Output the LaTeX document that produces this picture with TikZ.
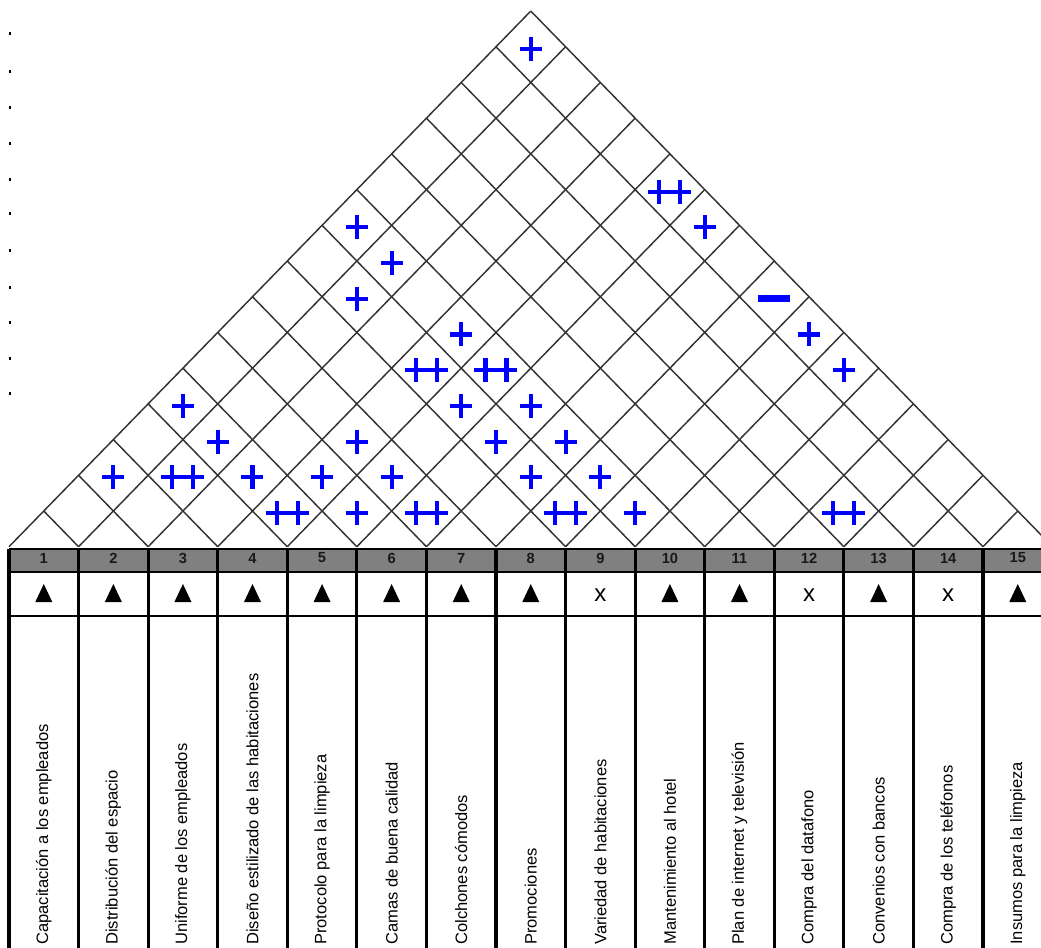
\documentclass[tikz,border=0pt]{standalone}
\usepackage{fontspec}
\setmainfont{Liberation Sans}
\tikzset{
  roofline/.style={draw=black!80, line width=1.1pt},
  rowline/.style={draw=black, line width=1.4pt},
  colline/.style={draw=black, line width=2.3pt},
  headnum/.style={inner sep=0pt, text=black!90, font=\fontsize{11}{12}\selectfont\bfseries},
  ratex/.style={inner sep=0pt, font=\fontsize{18}{18}\selectfont},
  reqlabel/.style={rotate=90, anchor=west, inner sep=0pt, font=\fontsize{12.4}{14}\selectfont},
  plusmark/.pic={\draw[blue, line width=3.1pt] (-11,0) -- (11,0) (0,-12) -- (0,12);},
  dblmark/.pic={\draw[blue, line width=3.1pt] (-21.5,0) -- (21.5,0) (-10.5,-12) -- (-10.5,12) (10.5,-12) -- (10.5,12);},
  minusmark/.pic={\fill[blue] (-16,-3.5) rectangle (16,3.5);}
}
\begin{document}
\begin{tikzpicture}[x=0.75pt, y=-0.75pt]
   \useasboundingbox (0,0) rectangle (1041,947);

   % Stray dots on the left margin
   \foreach \y in {33,71,107,143,179,213,250,287,322,358,393} {
       \fill (9.3,\y-1) rectangle (10.8,\y+1.5);
   }

   % Roof: diagonal grid
   \foreach \k in {0,...,15} {
       \draw[roofline] (9+\k*69.57,546.7) -- ++({(15-\k)*34.785},{-(15-\k)*35.71});
       \draw[roofline] (9+\k*69.57,546.7) -- ++({-\k*34.785},{-\k*35.71});
   }

   % Correlations in the roof
   \foreach \i/\j in {5/6,9/10,1/3,3/5,4/6,5/7,7/9,8/10,2/5,4/7,6/9,7/10,1/5,5/9,6/10,10/15,4/10,9/15,2/9,2/10,1/10,6/15,1/15} {
       \pic at ({9+(\i+\j-1)*34.785},{548.7-(\j-\i)*35.71}) {plusmark};
   }
   \foreach \i/\j in {4/5,6/7,8/9,12/13,2/4,4/9,5/10,5/15} {
       \pic at ({9+(\i+\j-1)*34.785},{548.7-(\j-\i)*35.71}) {dblmark};
   }
   \foreach \i/\j in {8/15} {
       \pic at ({9+(\i+\j-1)*34.785},{548.7-(\j-\i)*35.71}) {minusmark};
   }

   % Table: header row and grid
   \fill[black!50] (9,549) rectangle (1053,572);
   \draw[rowline] (9,549) -- (1053,549);
   \draw[rowline] (9,572) -- (1053,572);
   \draw[rowline] (9,616) -- (1053,616);
   \foreach \k in {0,...,15} {
       \draw[colline] (9+\k*69.57,549) -- (9+\k*69.57,950);
   }

   % Column numbers
   \foreach \k in {1,...,15} {
       \node[headnum] (num\k) at ({9+(\k-0.5)*69.57},558) {\k};
   }

   % Direction of improvement
   \foreach \k in {1,2,3,4,5,6,7,8,10,11,13,15} {
       \fill ({9+(\k-0.5)*69.57-8.5},602) -- ++(17,0) -- ++(-8.5,-18) -- cycle;
   }
   \foreach \k in {9,12,14} {
       \node[ratex] (rate\k) at ({9+(\k-0.5)*69.57},595) {x};
   }

   % Technical requirements
   \foreach \k/\txt in {1/Capacitación a los empleados, 2/Distribución del espacio,
       3/Uniforme de los empleados, 4/Diseño estilizado de las habitaciones,
       5/Protocolo para la limpieza, 6/Camas de buena calidad, 7/Colchones cómodos,
       8/Promociones, 9/Variedad de habitaciones, 10/Mantenimiento al hotel,
       11/Plan de internet y televisión, 12/Compra del datafono,
       13/Convenios con bancos, 14/Compra de los teléfonos, 15/Insumos para la limpieza} {
       \node[reqlabel] (req\k) at ({9+(\k-0.5)*69.57},945) {\txt};
   }
\end{tikzpicture}
\end{document}
